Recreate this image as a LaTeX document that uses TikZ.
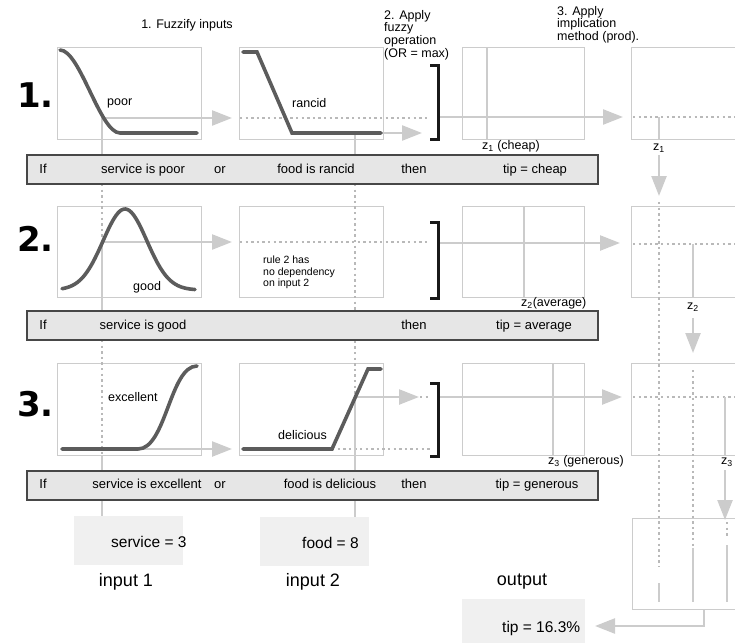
\documentclass[tikz,border=0pt]{standalone}
\usepackage{fontspec}
\setmainfont{Liberation Sans}
\newfontfamily\numfont{DejaVu Sans}
\usepackage{tikz}
\usetikzlibrary{arrows.meta, positioning}
\definecolor{boxgray}{RGB}{204,204,204}
\definecolor{flowgray}{RGB}{204,204,204}
\definecolor{dotgray}{RGB}{185,185,185}
\definecolor{curvegray}{RGB}{92,92,92}
\definecolor{barfill}{RGB}{230,230,230}
\definecolor{valfill}{RGB}{240,240,240}
\tikzset{
  mfbox/.style={draw=boxgray, line width=0.9pt},
  mfcurve/.style={draw=curvegray, line width=3.6pt, line cap=round},
  flow/.style={draw=flowgray, line width=2.4pt, -{Triangle[length=20pt,width=15pt]}},
  zline/.style={draw=flowgray, line width=2.2pt},
  dots/.style={draw=dotgray, line width=1.9pt, dash pattern=on 2.4pt off 3.2pt},
  rulebar/.style={draw=black!72, fill=barfill, line width=1.1pt},
  bracket/.style={draw=black!90, line width=3pt},
  valbox/.style={fill=valfill},
  txt/.style={font=\fontsize{12.5}{12.7}\selectfont, inner sep=0pt},
  bartxt/.style={font=\fontsize{13}{14}\selectfont, inner sep=0pt, text height=9.5pt, text depth=2.7pt},
  valtxt/.style={font=\fontsize{15.5}{17}\selectfont, inner sep=0pt, anchor=west},
  iotxt/.style={font=\fontsize{18}{20}\selectfont, inner sep=0pt},
  rulenum/.style={font=\numfont\bfseries\fontsize{34}{34}\selectfont, inner sep=0pt, anchor=base east}
}
\begin{document}
\begin{tikzpicture}[x=1pt, y=-1pt]
    \clip (0,0) rectangle (735,642);

    % Kopfzeilen
    \node[txt] (title1) at (187,25) {1. Fuzzify inputs};
    \node[txt, anchor=north west, align=left] (title2) at (384,10) {2. Apply\\fuzzy\\operation\\(OR = max)};
    \node[txt, anchor=north west, align=left] (title3) at (557,6) {3. Apply\\implication\\method (prod).};

    % Kaesten der Regeln
    \foreach \t/\b in {47/139, 206/297, 363/455} {
        \draw[mfbox] (57,\t) rectangle (201,\b);
        \draw[mfbox] (239,\t) rectangle (383,\b);
        \draw[mfbox] (462,\t) rectangle (584,\b);
        \draw[mfbox] (631,\t) rectangle (760,\b);
    }
    \draw[mfbox] (632,518) rectangle (760,609);

    % Eingangswerte
    \fill[valbox] (74,516) rectangle (183,565);
    \fill[valbox] (260,517) rectangle (369,566);
    \fill[valbox] (462,599) rectangle (585,650);

    % gepunktete Hilfslinien
    \draw[dots] (102,184) -- (102,242);
    \draw[dots] (102,340) -- (102,455);
    \draw[dots] (355,184) -- (355,398);
    \draw[dots] (240,118) -- (430,118);
    \draw[dots] (240,242) -- (430,242);
    \draw[dots] (332,449) -- (430,449);
    \draw[dots] (420,397) -- (430,397);
    \foreach \y in {117, 244, 397}
        \draw[dots] (633,\y) -- (735,\y);
    \draw[dots] (659,202) -- (659,567);
    \draw[dots] (693,370) -- (693,548);
    \draw[dots] (727,522) -- (727,538);

    % Eingangslinien
    \draw[zline] (102,118) -- (102,184);
    \draw[zline] (102,242) -- (102,340);
    \draw[zline] (102,455) -- (102,516);
    \draw[zline] (355,133) -- (355,184);
    \draw[zline] (355,398) -- (355,517);

    % Pfeile zur Verknuepfung
    \draw[flow] (102,118) -- (232,118);
    \draw[flow] (355,133) -- (422,133);
    \draw[flow] (102,242) -- (232,242);
    \draw[flow] (102,449) -- (232,449);
    \draw[flow] (355,397) -- (419,397);

    % Implikation
    \draw[flow] (440,117) -- (623,117);
    \draw[flow] (440,243) -- (620,243);
    \draw[flow] (440,397) -- (622,397);
    \draw[zline] (487,48) -- (487,139);
    \draw[zline] (524,207) -- (524,298);
    \draw[zline] (553,363) -- (553,455);

    % Aggregation
    \draw[zline] (659,117) -- (659,139);
    \draw[zline] (693,244) -- (693,298);
    \draw[zline] (725,397) -- (725,455);
    \draw[flow] (659,155) -- (659,196);
    \draw[flow] (693,318) -- (693,353);
    \draw[flow] (725,470) -- (725,520);
    \draw[zline] (659,583) -- (659,602);
    \draw[zline] (693,548) -- (693,602);
    \draw[zline] (727,545) -- (727,602);
    \draw[flow] (704,609) |- (595,626);

    % Zugehoerigkeitsfunktionen
    \draw[mfcurve] (60,50) .. controls (80,50) and (100,133) .. (120,133) -- (197,133);
    \draw[mfcurve] plot[domain=62:195, samples=70, smooth] (\x, {290-81*exp(0-((\x-125)/31)^2)});
    \draw[mfcurve] (62,449) -- (138,449) .. controls (166,449) and (170,366) .. (197,366);
    \draw[mfcurve] (243,52) -- (257,52) -- (292,133) -- (381,133);
    \draw[mfcurve] (243,449) -- (332,449) -- (368,369) -- (381,369);

    % ODER-Klammern
    \foreach \t/\b in {65/139, 222/298, 383/456}
        \draw[bracket] (430,\t) -- (438,\t) -- (438,\b) -- (430,\b);

    % Beschriftungen
    \node[txt, anchor=west] (lpoor) at (107,103) {poor};
    \node[txt, anchor=west] (lrancid) at (292,103) {rancid};
    \node[txt, anchor=west] (lgood) at (133,287) {good};
    \node[txt, anchor=west] (lexc) at (108,397) {excellent};
    \node[txt, anchor=west] (ldel) at (278,435) {delicious};
    \node[anchor=north west, align=left, inner sep=0pt, font=\fontsize{10.5}{11.5}\selectfont] (lnodep) at (263,256) {rule 2 has\\no dependency\\on input 2};
    \node[txt, anchor=west] (zlab1) at (482,146) {z\textsubscript{1} (cheap)};
    \node[txt, anchor=west] (zlab2) at (521,303) {z\textsubscript{2}(average)};
    \node[txt, anchor=west] (zlab3) at (548,461) {z\textsubscript{3} (generous)};
    \node[txt] (zagg1) at (659,148) {z\textsubscript{1}};
    \node[txt] (zagg2) at (693,307) {z\textsubscript{2}};
    \node[txt] (zagg3) at (727,462) {z\textsubscript{3}};

    % Regelzeilen
    \foreach \y in {155, 311, 471}
        \draw[rulebar] (27,\y) rectangle (598,\y+29);
    \foreach \n/\y in {1/170, 2/326, 3/485} {
        \node[bartxt] (if\n) at (43,\y) {If};
        \node[bartxt] (then\n) at (414,\y) {then};
    }
    \node[bartxt] (ante1) at (143,170) {service is poor};
    \node[bartxt] (or1) at (220,170) {or};
    \node[bartxt] (antf1) at (316,170) {food is rancid};
    \node[bartxt] (cons1) at (535,170) {tip = cheap};
    \node[bartxt] (ante2) at (143,326) {service is good};
    \node[bartxt] (cons2) at (534,326) {tip = average};
    \node[bartxt] (ante3) at (147,485) {service is excellent};
    \node[bartxt] (or3) at (220,485) {or};
    \node[bartxt] (antf3) at (330,485) {food is delicious};
    \node[bartxt] (cons3) at (537,485) {tip = generous};

    % Regelnummern
    \node[rulenum] (num1) at (54,107) {1.};
    \node[rulenum] (num2) at (54,251) {2.};
    \node[rulenum] (num3) at (54,416) {3.};

    % Ein- und Ausgang
    \node[valtxt] (service) at (111,542) {service = 3};
    \node[valtxt] (food) at (302,543) {food = 8};
    \node[valtxt] (tip) at (502,628) {tip = 16.3\%};
    \node[iotxt] (in1) at (126,582) {input 1};
    \node[iotxt] (in2) at (313,582) {input 2};
    \node[iotxt] (out) at (522,582) {output};
\end{tikzpicture}
\end{document}
